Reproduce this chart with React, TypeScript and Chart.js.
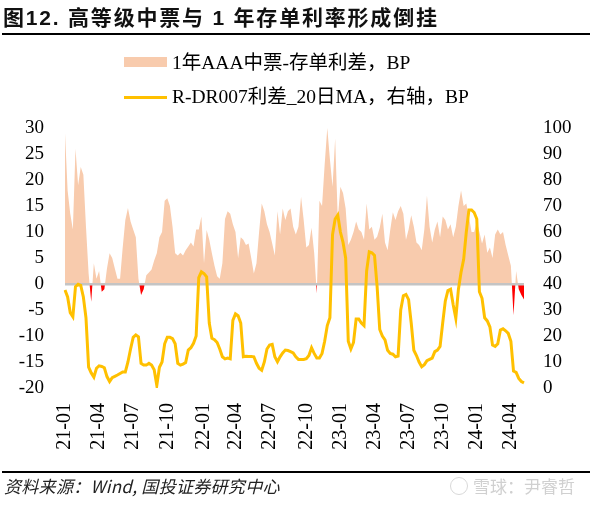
import React, { useEffect, useRef } from 'react';
import { Chart, registerables } from 'chart.js';

Chart.register(...registerables);

// Weekly observations starting 2021-01-01
const START = { y: 2021, m: 0, d: 1 };

// 1年AAA中票-存单利差, BP (left axis)
const spread: number[] = [
  29, 18, 13.5, 10.5, 26, 19, 22.5, 21, 11, 2,
  -3.4, 4, 1, 2.5, -1.5, -1, 3, 5.9, 5, 3,
  1, 1, 7, 12.3, 14.6, 12, 10.5, 9, 1, -2.1,
  -1, 1.7, 2.2, 2.8, 4.5, 5.9, 9, 10, 16, 16.5,
  15, 11, 5.9, 5.5, 6, 5.5, 6.5, 7.2, 8, 7.2,
  10.5, 10.5, 13, 4, 10.4, 8.5, 5.9, 3.5, 1.5, 1,
  4, 12.5, 14, 13.5, 11.5, 10, 5, 9, 8.5, 7.5,
  7.8, 5, 2, 4, 10, 15.5, 14, 11.5, 10, 7.8,
  5.5, 14, 9.5, 14.5, 12.3, 14, 14.5, 11, 9.5, 11,
  16.8, 12.3, 7, 7.5, 10.8, 6, -1.8, 16, 15, 23,
  30, 24, 18.7, 28, 12.5, 18.7, 17.5, 14.5, 7.5, 8.5,
  10, 12, 10.5, 10, 8.5, 15.5, 10.5, 11, 8.5, 9.1,
  10.8, 13.5, 8, 6.5, 10.4, 13.8, 12.3, 14, 15, 13.5,
  8.5, 10.5, 13.2, 11, 8, 7.5, 6.5, 10.5, 17, 11,
  8, 10.5, 12, 9, 13, 12.3, 10.5, 11.5, 9, 11,
  15, 18, 15, 15.5, 13, 10, 10, 12, 10, 7.8,
  9.5, 6, 7, 5, 9.5, 10.5, 9.5, 10, 7.5, 5.5,
  3.5, -6, 2.5, -1, -2.1, -3,
];

// R-DR007利差_20日MA, BP (right axis)
const rdr: number[] = [
  37.7, 35, 29, 27.4, 39, 39.9, 39.5, 35, 27, 8,
  5.8, 4.2, 7.6, 8.5, 8.3, 7.8, 4.4, 2.5, 4, 4.5,
  5, 5.6, 6.2, 6.2, 10, 15, 19.5, 20.4, 19.7, 9.5,
  8.8, 8.8, 9.5, 8.8, 7, 1, 8, 10, 17, 19.5,
  19.5, 19, 17, 9.5, 8.8, 9.2, 9.8, 14.6, 15.5, 17.2,
  20, 42.5, 44.7, 44, 42.8, 25, 19.1, 18.6, 17.5, 15,
  12, 11.2, 11.5, 11.2, 26, 28.5, 27.8, 25, 12, 12.2,
  12.1, 12.1, 12, 9.5, 7.6, 6.8, 10, 15, 16.5, 16.8,
  12, 10.1, 12, 13.5, 14.6, 14.4, 14, 13.5, 12, 11,
  11, 11, 11.3, 12.5, 15.5, 13.3, 11.5, 11.5, 13.3, 18,
  24, 27, 59, 65, 66.5, 60, 56, 50, 18, 15,
  17.5, 26.5, 26.5, 25, 24, 45, 52.4, 52, 51, 39,
  22.5, 20, 18.5, 14.5, 13.3, 13, 12, 12.3, 30, 35.5,
  36, 34, 25, 14.5, 12.5, 10, 8.2, 9, 10.5, 11,
  11.5, 14, 14.6, 16, 25, 33.5, 37.5, 38, 32, 26.8,
  38, 44.5, 49.5, 60, 68.5, 68.5, 67.5, 65, 37, 34.5,
  27, 25.8, 23.5, 16.5, 16, 17, 22.3, 22.8, 22, 21,
  18, 6.5, 6, 3.7, 2.5, 2,
];

// Category labels: one per weekly observation (YYYY-MM-DD)
const weeks: string[] = spread.map((_, i) =>
  new Date(Date.UTC(START.y, START.m, START.d + 7 * i)).toISOString().slice(0, 10)
);

const quarterTicks: string[] = [
  '21-01', '21-04', '21-07', '21-10',
  '22-01', '22-04', '22-07', '22-10',
  '23-01', '23-04', '23-07', '23-10',
  '24-01', '24-04',
];

const leftTicks = { min: -20, max: 30, step: 5 };
const rightTicks = { min: 0, max: 100, step: 10 };

const SERIF = "'Times New Roman', 'Liberation Serif', 'Noto Sans CJK SC', serif";

// Zero (category) axis line: drawn just before the orange line, i.e. above the area
const zeroLine = {
  id: 'zeroLine',
  beforeDatasetDraw(chart: any, args: any) {
    if (!args || !args.meta || args.meta.yAxisID !== 'y1') return;
    const { ctx, chartArea, scales } = chart;
    const y = Math.round(scales.y.getPixelForValue(0));
    ctx.save();
    ctx.fillStyle = '#C4C4C4';
    ctx.fillRect(chartArea.left, y - 1, chartArea.right - chartArea.left, 2.5);
    ctx.restore();
  },
};

export default function App() {
  const ref = useRef<HTMLCanvasElement | null>(null);

  useEffect(() => {
    if (!ref.current) return;
    const chart = new Chart(ref.current, {
      type: 'line',
      data: {
        labels: weeks,
        datasets: [
          {
            label: 'R-DR007利差_20日MA，右轴，BP',
            data: rdr,
            yAxisID: 'y1',
            borderColor: '#FFC000',
            borderWidth: 3,
            pointRadius: 0,
            tension: 0,
            fill: false,
          },
          {
            label: '1年AAA中票-存单利差，BP',
            data: spread,
            yAxisID: 'y',
            borderWidth: 0,
            borderColor: 'rgba(0,0,0,0)',
            pointRadius: 0,
            tension: 0,
            fill: { target: { value: 0 }, above: '#F8CBAD', below: '#FF0000' },
          },
        ],
      },
      options: {
        animation: false,
        responsive: false,
        maintainAspectRatio: false,
        layout: { padding: { left: 0, right: 0, top: 128, bottom: 0 } },
        plugins: { legend: { display: false }, tooltip: { enabled: false } },
        scales: {
          x: {
            type: 'category',
            position: 'bottom',
            grid: { display: false, drawTicks: false },
            border: { display: false },
            afterFit: (s: any) => { s.height = 118; },
            ticks: {
              autoSkip: false,
              maxRotation: 90,
              minRotation: 90,
              padding: 15,
              color: '#000',
              font: { family: SERIF, size: 20 },
              callback: (_v: any, i: number) => {
                const key = weeks[i].slice(2, 7);
                const prev = i > 0 ? weeks[i - 1].slice(2, 7) : '';
                return quarterTicks.includes(key) && prev !== key ? key : null;
              },
            },
          },
          y: {
            position: 'left',
            min: leftTicks.min,
            max: leftTicks.max,
            afterFit: (s: any) => { s.width = 65; },
            border: { display: false },
            grid: { display: false, drawTicks: false },
            ticks: {
              stepSize: leftTicks.step,
              padding: 21,
              color: '#000',
              font: { family: SERIF, size: 19 },
            },
          },
          y1: {
            position: 'right',
            min: rightTicks.min,
            max: rightTicks.max,
            afterFit: (s: any) => { s.width = 71; },
            border: { display: false },
            grid: { display: false, drawTicks: false },
            ticks: {
              stepSize: rightTicks.step,
              padding: 19,
              color: '#000',
              font: { family: SERIF, size: 19 },
            },
          },
        },
      },
      plugins: [zeroLine],
    });
    return () => chart.destroy();
  }, []);

  const abs = (s: React.CSSProperties): React.CSSProperties => ({ position: 'absolute', ...s });

  return (
    <div style={{ position: 'absolute', left: 0, top: 0, width: 595, height: 506, background: '#fff', overflow: 'hidden' }}>
      <canvas ref={ref} width={595} height={506} style={{ position: 'absolute', left: 0, top: 0 }} />
      <div style={abs({ left: 3, top: 6, fontFamily: "'Liberation Sans', 'Noto Sans CJK SC', sans-serif", fontWeight: 'bold', fontSize: 21, lineHeight: '24px', letterSpacing: 1.8, color: '#111', whiteSpace: 'nowrap' })}>
        图12. 高等级中票与 1 年存单利率形成倒挂
      </div>
      <div style={abs({ left: 2, top: 33, width: 588, height: 2, background: '#000' })} />
      <div style={abs({ left: 124, top: 57, width: 43, height: 10, background: '#F8CBAD' })} />
      <div style={abs({ left: 172, top: 51, fontFamily: SERIF, fontSize: 19.5, lineHeight: '24px', color: '#000', whiteSpace: 'nowrap' })}>
        1年AAA中票-存单利差，BP
      </div>
      <div style={abs({ left: 124, top: 95.5, width: 43, height: 3, background: '#FFC000' })} />
      <div style={abs({ left: 172, top: 85, fontFamily: SERIF, fontSize: 19.5, lineHeight: '24px', color: '#000', whiteSpace: 'nowrap' })}>
        R-DR007利差_20日MA，右轴，BP
      </div>
      <div style={abs({ left: 2, top: 471, width: 588, height: 2, background: '#000' })} />
      <div style={abs({ left: 4, top: 476, fontFamily: "'Noto Sans CJK SC', sans-serif", fontStyle: 'italic', fontSize: 17, lineHeight: '20px', letterSpacing: 0.3, color: '#222', whiteSpace: 'nowrap' })}>
        资料来源：Wind, 国投证券研究中心
      </div>
      <div style={abs({ left: 450, top: 477, width: 16, height: 16, border: '1.5px solid #d8d8d8', borderRadius: '50%' })} />
      <div style={abs({ left: 473, top: 476, fontFamily: "'Noto Sans CJK SC', sans-serif", fontSize: 17, lineHeight: '20px', color: '#d0d0d0', whiteSpace: 'nowrap' })}>
        雪球：尹睿哲
      </div>
    </div>
  );
}
